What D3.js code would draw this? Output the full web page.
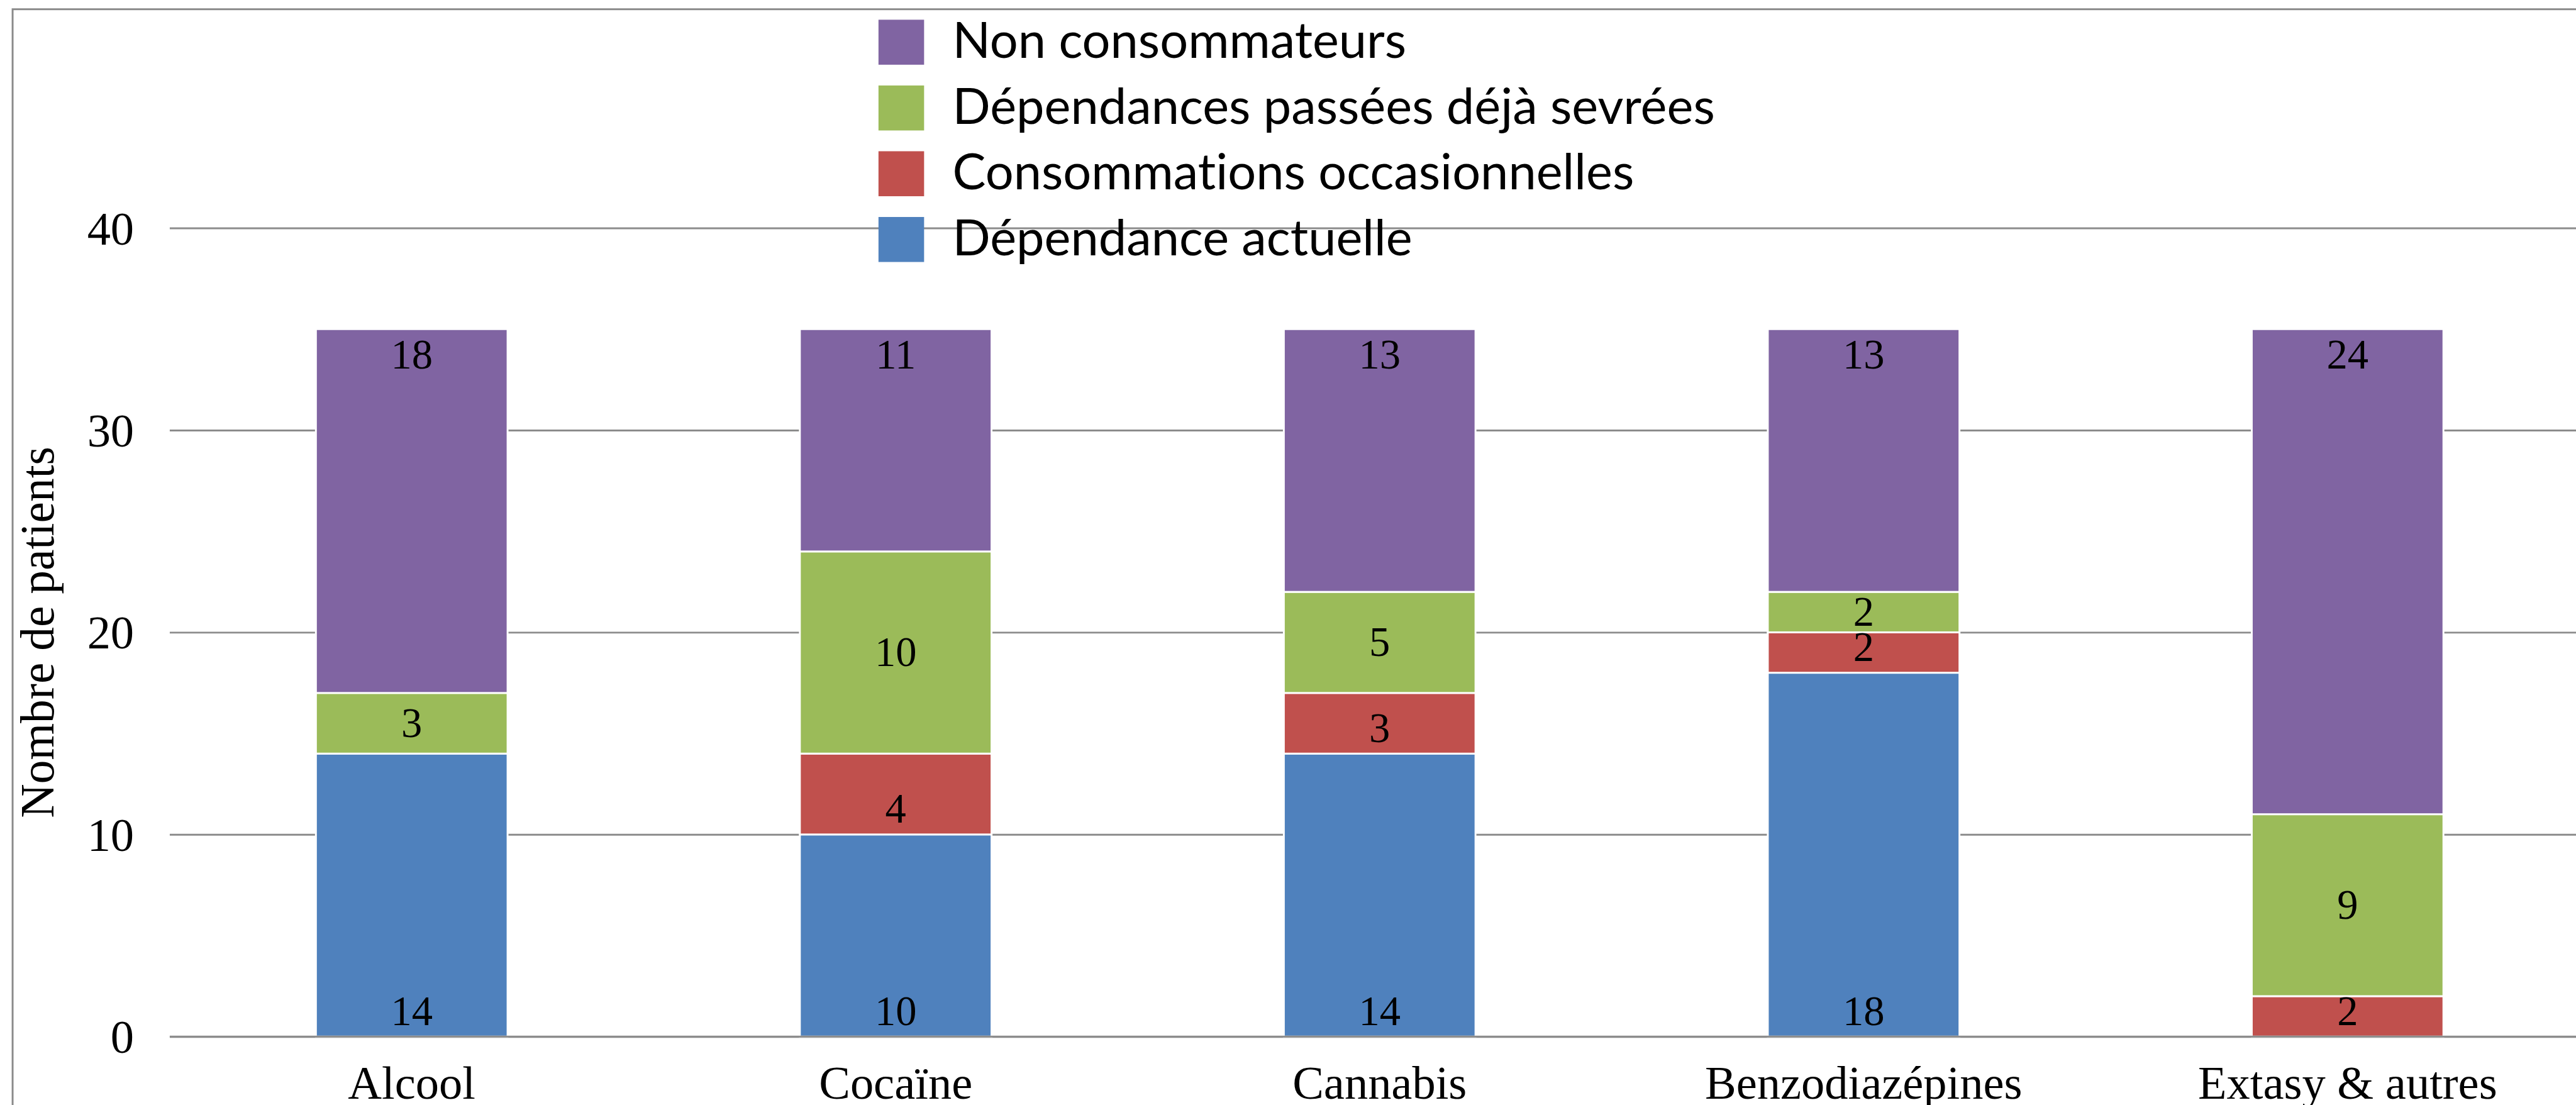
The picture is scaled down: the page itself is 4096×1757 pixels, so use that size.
<!DOCTYPE html>
<html>
<head>
<meta charset="utf-8">
<script src="https://cdn.jsdelivr.net/npm/d3@7"></script>
<style>
  html, body { margin: 0; padding: 0; background: #fff; overflow: hidden; }
  svg { display: block; }
  text { font-variant-ligatures: none; }
</style>
</head>
<body>
<div id="chart"></div>
<script>
// Substance categories (x axis)
const categories = ["Alcool", "Cocaïne", "Cannabis", "Benzodiazépines", "Extasy & autres"];

// Series, bottom to top of each stack
const seriesNames = [
  "Dépendance actuelle",
  "Consommations occasionnelles",
  "Dépendances passées déjà sevrées",
  "Non consommateurs"
];
const dependanceActuelle      = [14, 10, 14, 18, 0];
const consommationsOccas      = [0, 4, 3, 2, 2];
const dependancesPassees      = [3, 10, 5, 2, 9];
const nonConsommateurs        = [18, 11, 13, 13, 24];
const seriesValues = [dependanceActuelle, consommationsOccas, dependancesPassees, nonConsommateurs];
const seriesColors = ["#4F81BD", "#C0504D", "#9BBB59", "#8064A2"];
// where each series prints its value inside the segment
const labelPlacement = ["base", "base", "center", "end"];

const yTicks = [0, 10, 20, 30, 40];
const yTitle = "Nombre de patients";

// drawing is laid out on a 4179 x 1793 canvas and scaled to the window
const W = 4179, H = 1793;
const svg = d3.select("#chart").append("svg")
  .attr("width", 4096).attr("height", 1757)
  .attr("viewBox", `0 0 ${W} ${H}`);

const serif = "'Liberation Serif', 'Times New Roman', serif";
const sans = "Lato, 'Open Sans', sans-serif";

// chart frame
svg.append("rect")
  .attr("x", 20).attr("y", 15)
  .attr("width", W + 50).attr("height", H + 50)
  .attr("fill", "#fff")
  .attr("stroke", "#8a8a8a").attr("stroke-width", 3);

const plot = { left: 275, right: 275 + 5 * 785.3, top: 370, bottom: 1682 };

const x = d3.scaleBand()
  .domain(categories)
  .range([plot.left, plot.right])
  .paddingInner(0.604)
  .paddingOuter(0.302);

const y = d3.scaleLinear()
  .domain([0, 40])
  .range([plot.bottom, plot.top]);

// y axis with gridlines
const yAxis = svg.append("g")
  .attr("transform", `translate(${plot.left},0)`)
  .call(d3.axisLeft(y)
    .tickValues(yTicks)
    .tickSizeInner(-(plot.right - plot.left))
    .tickSizeOuter(0)
    .tickPadding(58));
yAxis.select(".domain").remove();
yAxis.selectAll(".tick line")
  .attr("stroke", "#8c8c8c").attr("stroke-width", 3);
yAxis.selectAll(".tick text")
  .attr("font-family", serif).attr("font-size", 76)
  .attr("fill", "#000")
  .attr("dy", null).attr("dominant-baseline", null)
  .attr("y", 26);

// stacked bars
const table = categories.map((c, i) => {
  const row = { category: c };
  seriesNames.forEach((s, k) => { row[s] = seriesValues[k][i]; });
  return row;
});
const stacked = d3.stack().keys(seriesNames)(table);

const layers = svg.append("g").selectAll("g.layer")
  .data(stacked)
  .join("g")
  .attr("class", "layer")
  .attr("fill", (d, k) => seriesColors[k]);

layers.selectAll("rect")
  .data(d => d.filter(p => p[1] - p[0] > 0))
  .join("rect")
  .attr("x", p => x(p.data.category))
  .attr("width", x.bandwidth())
  .attr("y", p => y(p[1]))
  .attr("height", p => y(p[0]) - y(p[1]))
  .attr("stroke", "#fff")
  .attr("stroke-width", 3);

// baseline of the category axis over the bar feet
svg.append("line")
  .attr("x1", plot.left).attr("x2", plot.right)
  .attr("y1", y(0)).attr("y2", y(0))
  .attr("stroke", "#8c8c8c").attr("stroke-width", 3);

// value labels
const labels = svg.append("g")
  .attr("font-family", serif).attr("font-size", 68)
  .attr("text-anchor", "middle").attr("fill", "#000");
stacked.forEach((layer, k) => {
  labels.selectAll(null)
    .data(layer.filter(p => p[1] - p[0] > 0))
    .join("text")
    .attr("x", p => x(p.data.category) + x.bandwidth() / 2)
    .attr("y", p => {
      const top = y(p[1]), bot = y(p[0]);
      if (labelPlacement[k] === "end") return top + 64;
      if (labelPlacement[k] === "base") return bot - 19;
      return (top + bot) / 2 + 22;
    })
    .text(p => p[1] - p[0]);
});

// category axis labels
svg.append("g")
  .attr("font-family", serif).attr("font-size", 76)
  .attr("text-anchor", "middle").attr("fill", "#000")
  .selectAll("text")
  .data(categories)
  .join("text")
  .attr("x", c => x(c) + x.bandwidth() / 2)
  .attr("y", 1783)
  .text(c => c);

// y axis title
svg.append("text")
  .attr("transform", `translate(86,${(plot.top + plot.bottom) / 2}) rotate(-90)`)
  .attr("text-anchor", "middle")
  .attr("font-family", serif).attr("font-size", 77)
  .attr("fill", "#000")
  .text(yTitle);

// legend, top series first
const legendOrder = [3, 2, 1, 0];
const legend = svg.append("g")
  .attr("transform", "translate(1425,32)");
const items = legend.selectAll("g")
  .data(legendOrder)
  .join("g")
  .attr("transform", (k, i) => `translate(0,${i * 106.7})`);
items.append("rect")
  .attr("width", 74).attr("height", 73)
  .attr("fill", k => seriesColors[k]);
items.append("text")
  .attr("x", 120).attr("y", 62)
  .attr("font-family", sans).attr("font-size", 81)
  .attr("fill", "#000")
  .text(k => seriesNames[k]);
</script>
</body>
</html>
